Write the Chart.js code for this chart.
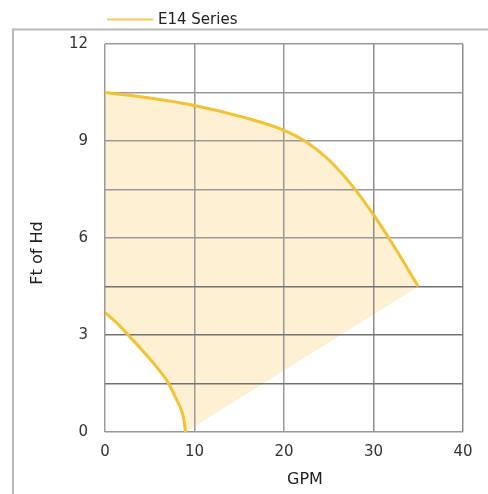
<!DOCTYPE html>
<html>
<head>
<meta charset="utf-8">
<script src="https://cdn.jsdelivr.net/npm/chart.js@4.4.1/dist/chart.umd.min.js"></script>
<style>
  html, body { margin: 0; padding: 0; background: #ffffff; }
  #wrap { width: 488px; height: 494px; position: relative; }
</style>
</head>
<body>
<div id="wrap"><canvas id="c" width="488" height="494"></canvas></div>
<script>
// ---- data ----
const seriesName = "E14 Series";
const xTitle = "GPM";
const yTitle = "Ft of Hd";

// upper performance curve
const upperGPM  = [0, 5, 10, 15, 20, 22.5, 25, 27.5, 30, 32.5, 35];
const upperHead = [10.5, 10.33, 10.1, 9.77, 9.33, 8.97, 8.42, 7.66, 6.72, 5.65, 4.5];

// lower (minimum) curve
const lowerGPM  = [0, 1.5, 3, 4.5, 6, 7, 8, 8.5, 8.8, 9];
const lowerHead = [3.7, 3.32, 2.88, 2.42, 1.93, 1.55, 1.0, 0.7, 0.4, 0];

// end of the shaded region's straight lower edge
const edgeGPM  = [35];
const edgeHead = [4.5];

const xTickLabels = [0, 10, 20, 30, 40];
const yTickLabels = [0, 3, 6, 9, 12];

const toPts = (xs, ys) => xs.map((x, i) => ({ x: x, y: ys[i] }));

const LINE = '#f2c232';
const FILL = '#fdf0d3';
const FONT = '"DejaVu Sans", sans-serif';

const decor = {
  id: 'decor',
  afterDraw(chart) {
    const ctx = chart.ctx;
    ctx.save();
    // outer frame
    ctx.strokeStyle = '#b9b9b9';
    ctx.lineWidth = 2;
    ctx.beginPath();
    ctx.moveTo(13, chart.height);
    ctx.lineTo(13, 29.5);
    ctx.lineTo(chart.width, 29.5);
    ctx.stroke();
    // legend
    ctx.strokeStyle = '#f5cd55';
    ctx.lineWidth = 2;
    ctx.beginPath();
    ctx.moveTo(107, 19.5);
    ctx.lineTo(153, 19.5);
    ctx.stroke();
    ctx.fillStyle = '#222';
    ctx.font = '15px ' + FONT;
    ctx.textAlign = 'left';
    ctx.textBaseline = 'middle';
    ctx.fillText(seriesName, 158, 20);
    // axis titles
    ctx.font = '16px ' + FONT;
    ctx.textAlign = 'center';
    ctx.fillText(xTitle, 305, 480);
    ctx.translate(37.5, 253);
    ctx.rotate(-Math.PI / 2);
    ctx.fillText(yTitle, 0, 0);
    ctx.restore();
  }
};

new Chart(document.getElementById('c'), {
  type: 'scatter',
  data: {
    datasets: [
      {
        label: seriesName,
        data: toPts(upperGPM, upperHead),
        showLine: true,
        borderColor: LINE,
        borderWidth: 3,
        pointRadius: 0,
        cubicInterpolationMode: 'monotone',
        backgroundColor: FILL,
        fill: '+1'
      },
      {
        label: 'boundary',
        data: toPts(lowerGPM.concat(edgeGPM), lowerHead.concat(edgeHead)),
        showLine: true,
        borderWidth: 0,
        borderColor: 'rgba(0,0,0,0)',
        pointRadius: 0,
        tension: 0,
        fill: false
      },
      {
        label: 'lower',
        data: toPts(lowerGPM, lowerHead),
        showLine: true,
        borderColor: LINE,
        borderWidth: 3,
        pointRadius: 0,
        cubicInterpolationMode: 'monotone',
        fill: false
      }
    ]
  },
  options: {
    responsive: false,
    animation: false,
    events: [],
    layout: { padding: { top: 44, right: 25, left: 0, bottom: 0 } },
    plugins: {
      legend: { display: false },
      tooltip: { enabled: false },
      filler: { drawTime: 'beforeDraw' }
    },
    scales: {
      x: {
        type: 'linear',
        min: 0, max: 40,
        afterFit(s) { s.height = 62; },
        border: { display: false },
        grid: {
          drawTicks: false,
          lineWidth: 1.5,
          color: (c) => (c.tick && c.tick.value >= 30) ? '#8c8c8c' : '#9a9a9a'
        },
        ticks: {
          stepSize: 10,
          padding: 11,
          color: '#333',
          font: { family: FONT, size: 15 },
          callback: (v) => xTickLabels.includes(v) ? String(v) : ''
        }
      },
      y: {
        type: 'linear',
        min: 0, max: 12,
        afterFit(s) { s.width = 105; },
        border: { display: false },
        grid: {
          drawTicks: false,
          lineWidth: 1.5,
          color: (c) => (c.tick && c.tick.value <= 4.5 && c.tick.value > 0) ? '#737373' : '#999999'
        },
        ticks: {
          stepSize: 1.5,
          padding: 17,
          color: '#333',
          font: { family: FONT, size: 15 },
          autoSkip: false,
          callback: (v) => yTickLabels.includes(v) ? String(v) : ''
        }
      }
    }
  },
  plugins: [decor]
});
</script>
</body>
</html>
